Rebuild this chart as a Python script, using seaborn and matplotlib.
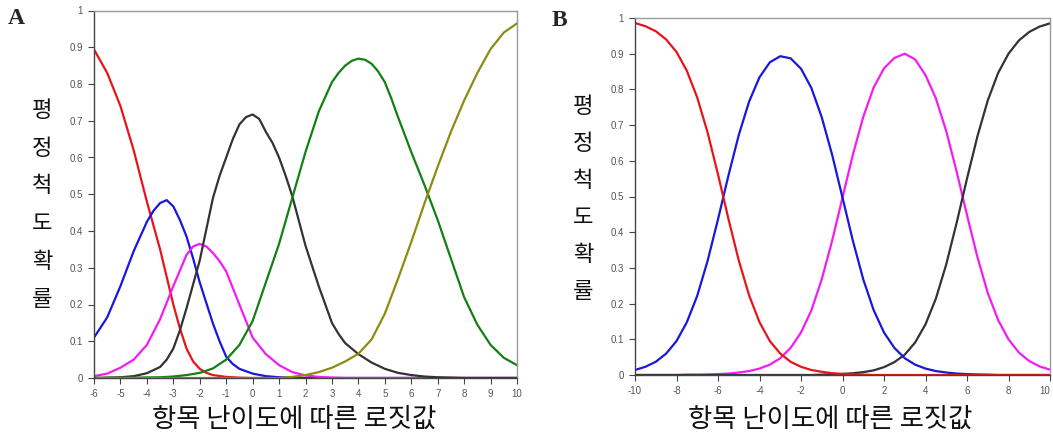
import numpy as np
import pandas as pd
import seaborn as sns
import matplotlib.pyplot as plt

a_red_x = [-6, -5.5, -5, -4.5, -4, -3.5, -3, -2.75, -2.5, -2.25, -2, -1.75, -1.5, -1, -0.5, 0, 10]
a_red = [0.894, 0.83, 0.74, 0.62, 0.48, 0.35, 0.20, 0.135, 0.08, 0.045, 0.025, 0.014, 0.008,
         0.003, 0.001, 0, 0]

a_blue_x = [-6, -5.5, -5, -4.5, -4, -3.75, -3.5, -3.25, -3, -2.75, -2.5, -2.25, -2, -1.5,
            -1.25, -1, -0.75, -0.5, 0, 0.5, 1, 1.5, 2, 10]
a_blue = [0.11, 0.165, 0.25, 0.345, 0.425, 0.455, 0.476, 0.484, 0.467, 0.43, 0.385, 0.325,
          0.26, 0.148, 0.10, 0.058, 0.038, 0.025, 0.012, 0.005, 0.002, 0.001, 0, 0]

a_mag_x = [-6, -5.5, -5, -4.5, -4, -3.5, -3, -2.5, -2.25, -2, -1.75, -1.5, -1.25, -1, -0.5,
           0, 0.5, 1, 1.5, 2, 2.5, 3, 3.5, 10]
a_mag = [0.005, 0.012, 0.028, 0.05, 0.09, 0.16, 0.25, 0.335, 0.358, 0.365, 0.358, 0.34,
         0.318, 0.29, 0.20, 0.11, 0.065, 0.035, 0.016, 0.007, 0.003, 0.001, 0, 0]

a_black_x = [-6, -5.5, -5, -4.5, -4, -3.5, -3.25, -3, -2.75, -2.5, -2, -1.5, -1.25, -1,
             -0.75, -0.5, -0.25, 0, 0.25, 0.5, 0.75, 1, 1.25, 1.5, 2, 2.5, 2.75, 3, 3.25,
             3.5, 4, 4.5, 5, 5.5, 6, 6.5, 7, 7.5, 8, 10]
a_black = [0, 0.001, 0.002, 0.005, 0.013, 0.03, 0.05, 0.08, 0.13, 0.19, 0.32, 0.49, 0.55,
           0.60, 0.65, 0.69, 0.71, 0.717, 0.705, 0.67, 0.64, 0.60, 0.55, 0.495, 0.36, 0.25,
           0.20, 0.15, 0.12, 0.095, 0.065, 0.042, 0.025, 0.014, 0.008, 0.004, 0.002, 0.001,
           0, 0]

a_green_x = [-6, -4.5, -3.5, -3, -2.5, -2, -1.5, -1, -0.5, 0, 0.5, 1, 1.5, 2, 2.5, 3, 3.25,
             3.5, 3.75, 4, 4.25, 4.5, 4.75, 5, 5.25, 5.5, 6, 6.5, 7, 7.5, 8, 8.5, 9, 9.5, 10]
a_green = [0, 0.001, 0.002, 0.004, 0.008, 0.014, 0.026, 0.05, 0.09, 0.155, 0.26, 0.365,
           0.49, 0.615, 0.725, 0.805, 0.83, 0.85, 0.863, 0.869, 0.866, 0.855, 0.834, 0.805,
           0.76, 0.71, 0.615, 0.525, 0.43, 0.325, 0.22, 0.145, 0.09, 0.055, 0.035]

a_olive_x = [-6, 1, 1.5, 2, 2.5, 3, 3.5, 4, 4.5, 5, 5.5, 6, 6.5, 7, 7.5, 8, 8.5, 9, 9.5, 10]
a_olive = [0, 0, 0.003, 0.008, 0.016, 0.028, 0.045, 0.066, 0.105, 0.175, 0.27, 0.37, 0.475,
           0.575, 0.67, 0.755, 0.83, 0.895, 0.94, 0.965]

# ---- panel B (x every 0.5 logit, -10..10) ----
xb = [-10, -9.5, -9, -8.5, -8, -7.5, -7, -6.5, -6, -5.5, -5, -4.5, -4, -3.5, -3, -2.5, -2,
      -1.5, -1, -0.5, 0, 0.5, 1, 1.5, 2, 2.5, 3, 3.5, 4, 4.5, 5, 5.5, 6, 6.5, 7, 7.5, 8,
      8.5, 9, 9.5, 10]
b_red = [0.986, 0.977, 0.963, 0.940, 0.905, 0.852, 0.777, 0.679, 0.562, 0.438, 0.321,
         0.223, 0.148, 0.095, 0.060, 0.037, 0.023, 0.014, 0.009, 0.005, 0.003, 0.002,
         0.001] + [0] * 18
b_blue = [0.014, 0.023, 0.037, 0.060, 0.095, 0.148, 0.222, 0.320, 0.436, 0.558, 0.672,
          0.766, 0.834, 0.876, 0.893, 0.887, 0.858, 0.804, 0.722, 0.617, 0.497, 0.376,
          0.268, 0.182, 0.119, 0.076, 0.047, 0.029, 0.018, 0.011, 0.007, 0.004, 0.0025,
          0.0015, 0.001] + [0] * 6
b_magenta = [0, 0, 0, 0, 0, 0.001, 0.001, 0.0015, 0.0025, 0.004, 0.007, 0.011, 0.018,
             0.029, 0.047, 0.076, 0.119, 0.181, 0.268, 0.376, 0.497, 0.617, 0.723, 0.805,
             0.859, 0.888, 0.900, 0.884, 0.840, 0.775, 0.683, 0.570, 0.448, 0.331, 0.230,
             0.154, 0.100, 0.063, 0.039, 0.024, 0.015]
b_black = [0] * 18 + [0.001, 0.002, 0.003, 0.005, 0.008, 0.013, 0.022, 0.036, 0.057,
                      0.091, 0.142, 0.214, 0.310, 0.426, 0.550, 0.668, 0.769, 0.846,
                      0.900, 0.937, 0.961, 0.976, 0.985]

colors = {'c1': '#e8141c', 'c2': '#1818dc', 'c3': '#f41cf4', 'c4': '#333333',
          'c5': '#128012', 'c6': '#8c8c10'}

a_curves = [('c1', a_red_x, a_red), ('c2', a_blue_x, a_blue), ('c3', a_mag_x, a_mag),
            ('c4', a_black_x, a_black), ('c5', a_green_x, a_green), ('c6', a_olive_x, a_olive)]
df_a = pd.concat([pd.DataFrame({'x': xs, 'p': ps, 'cat': k}) for k, xs, ps in a_curves])
df_b = pd.concat([pd.DataFrame({'x': xb, 'p': v, 'cat': k})
                  for k, v in zip(['c3', 'c4', 'c2', 'c1'], [b_magenta, b_black, b_blue, b_red])])

sns.set_style('white')
plt.rcParams['font.family'] = ['Liberation Sans', 'DejaVu Sans']

fig = plt.figure(figsize=(10.53, 4.38), dpi=100)
W, H = 1053, 438
ax_a = fig.add_axes([94 / W, 1 - 378 / H, (517 - 94) / W, (378 - 10.5) / H])
ax_b = fig.add_axes([635 / W, 1 - 375 / H, (1050 - 635) / W, (375 - 18) / H])

sns.lineplot(data=df_a, x='x', y='p', hue='cat', palette=colors, ax=ax_a,
             legend=False, linewidth=1.6)
sns.lineplot(data=df_b, x='x', y='p', hue='cat', palette=colors, ax=ax_b,
             legend=False, linewidth=1.6)

yt = np.arange(0, 1.01, 0.1)
ylabels = ['0'] + [f'{v:.1f}' for v in yt[1:-1]] + ['1']
for ax, xlim, xticks in [(ax_a, (-6, 10), range(-6, 11)), (ax_b, (-10, 10), range(-10, 11, 2))]:
    ax.set_xlim(*xlim)
    ax.set_ylim(0, 1)
    ax.set_xticks(list(xticks))
    ax.set_xticklabels([str(t) for t in xticks])
    ax.set_yticks(yt)
    ax.set_yticklabels(ylabels)
    ax.set_xlabel('')
    ax.set_ylabel('')
    ax.tick_params(axis='both', which='both', direction='out', length=4, width=0.8,
                   colors='#444444', labelsize=7, pad=4, bottom=True, left=True)
    ax.tick_params(axis='both', labelcolor='#555555')
    for s in ['top', 'right']:
        ax.spines[s].set_color('#9a9a9a')
        ax.spines[s].set_linewidth(1.0)
    for s in ['left', 'bottom']:
        ax.spines[s].set_color('#444444')
        ax.spines[s].set_linewidth(1.0)

# last tick label of B sits on the figure edge; keep it inside
ax_b.get_xticklabels()[-1].set_horizontalalignment('right')

kfont = ['Noto Sans CJK KR', 'DejaVu Sans']
ylab = '평정척도확률'
for cx, y0, step in [(42, 110.5, 37.7), (583, 106.5, 36.9)]:
    for i, ch in enumerate(ylab):
        fig.text(cx / W, 1 - (y0 + i * step) / H, ch, family=kfont, fontsize=16,
                 fontweight='light', ha='center', va='center', color='#111111')

for cx in [294, 830]:
    fig.text(cx / W, 1 - 419 / H, '항목 난이도에 따른 로짓값', family=kfont, fontsize=19,
             fontweight='light', ha='center', va='center', color='#111111')

fig.text(16 / W, 1 - 19 / H, 'A', family=['Liberation Serif'], fontweight='bold',
         fontsize=17, ha='center', va='center')
fig.text(559 / W, 1 - 20 / H, 'B', family=['Liberation Serif'], fontweight='bold',
         fontsize=17, ha='center', va='center')

fig.savefig('out.png', dpi=100)
